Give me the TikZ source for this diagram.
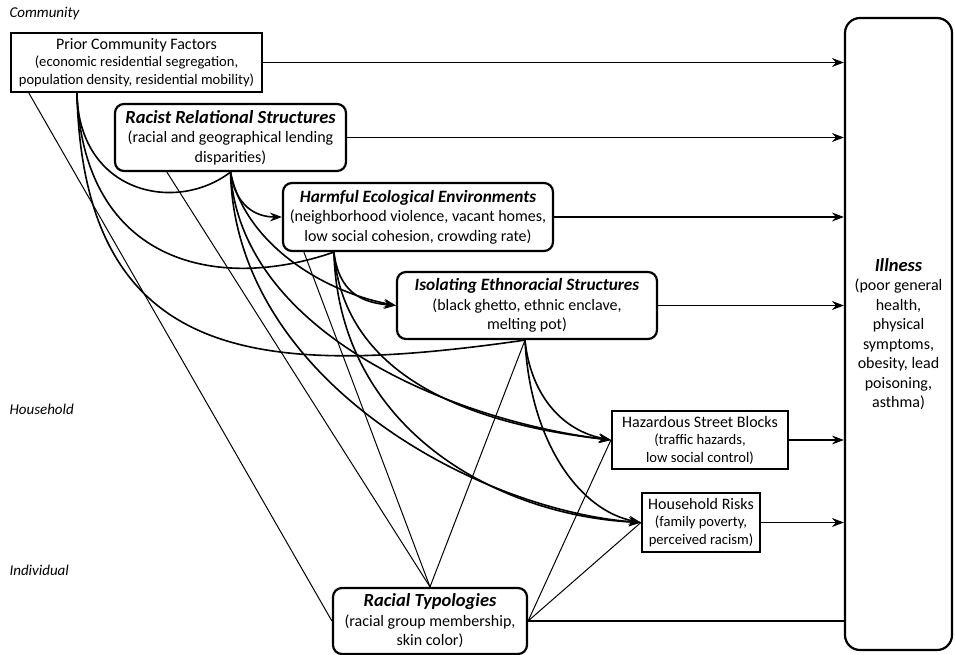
\documentclass[tikz,border=0pt]{standalone}
\usepackage{fontspec}
\setmainfont{Carlito}
\usetikzlibrary{arrows.meta}
\begin{document}
\begin{tikzpicture}[yscale=-1, x=1pt, y=1pt,
    plainbox/.style={draw, line width=2.2pt, inner sep=0pt, align=center, font=\fontsize{14.6}{17.5}\selectfont},
    roundbox/.style={draw, line width=2.2pt, rounded corners=9pt, inner sep=0pt, align=center, font=\fontsize{16}{19.5}\selectfont},
    levellabel/.style={anchor=west, font=\fontsize{15}{18}\selectfont\itshape},
    toill/.style={line width=1.4pt, -{Stealth[length=12pt, width=9pt, inset=4pt]}},
    route/.style={line width=1.6pt, -{Stealth[length=12pt, width=9pt, inset=4pt]}},
    hubroute/.style={line width=1.6pt},
    rtlink/.style={line width=1pt}]
    \useasboundingbox (0,0) rectangle (955,655);

    \node [levellabel] (lcom) at (6,14) {Community};
    \node [levellabel] (lhou) at (6,409) {Household};
    \node [levellabel] (lind) at (6,570) {Individual};

    \node [plainbox, minimum width=251pt, minimum height=59pt] (pcf) at (136.5,62.5) {{\fontsize{16}{17.5}\selectfont Prior Community Factors}\\(economic residential segregation,\\population density, residential mobility)};
    \node [roundbox, minimum width=231pt, minimum height=67pt] (rrs) at (230.5,137.5) {{\fontsize{18.5}{19.5}\selectfont\bfseries\itshape Racist Relational Structures}\\(racial and geographical lending\\disparities)};
    \node [roundbox, minimum width=270pt, minimum height=68pt] (hee) at (418,217) {{\fontsize{17.3}{19.5}\selectfont\bfseries\itshape Harmful Ecological Environments}\\(neighborhood violence, vacant homes,\\low social cohesion, crowding rate)};
    \node [roundbox, minimum width=260pt, minimum height=67pt] (ies) at (527,305.5) {{\fontsize{17.3}{19.5}\selectfont\bfseries\itshape Isolating Ethnoracial Structures}\\(black ghetto, ethnic enclave,\\melting pot)};
    \node [plainbox, minimum width=176pt, minimum height=58pt] (hsb) at (700,440) {{\fontsize{16}{17.5}\selectfont Hazardous Street Blocks}\\(traffic hazards,\\low social control)};
    \node [plainbox, minimum width=118pt, minimum height=59pt] (hr) at (701,522.5) {{\fontsize{16}{17.5}\selectfont Household Risks}\\(family poverty,\\perceived racism)};
    \node [roundbox, minimum width=194pt, minimum height=66pt] (rt) at (430,621) {{\fontsize{18.5}{19.5}\selectfont\bfseries\itshape Racial Typologies}\\(racial group membership,\\skin color)};
    \node [roundbox, rounded corners=15pt, minimum width=107pt, minimum height=632pt] (ill) at (898.5,334) {{\fontsize{18.5}{19.5}\selectfont\bfseries\itshape Illness}\\(poor general\\health,\\physical\\symptoms,\\obesity, lead\\poisoning,\\asthma)};

    \coordinate (pcfhub) at ([xshift=67pt]pcf.south west);
    \coordinate (pcfleft) at ([xshift=19pt]pcf.south west);
    \coordinate (rrshub) at (rrs.south);
    \coordinate (rrsleft) at ([xshift=53pt]rrs.south west);
    \coordinate (heehub) at ([xshift=52pt]hee.south west);
    \coordinate (heeleft) at ([xshift=22pt]hee.south west);
    \coordinate (ieshub) at ([xshift=-2pt]ies.south);

    \draw [toill] (pcf.east) -- (pcf.east -| ill.west);
    \draw [toill] (rrs.east) -- (rrs.east -| ill.west);
    \draw [toill] (hee.east) -- (hee.east -| ill.west);
    \draw [toill] (ies.east) -- (ies.east -| ill.west);
    \draw [toill] (hsb.east) -- (hsb.east -| ill.west);
    \draw [toill] (hr.east) -- (hr.east -| ill.west);
    \draw [line width=1.4pt] (rt.east) -- (rt.east -| ill.west);

    \draw [hubroute] (pcfhub) .. controls +(2,100) and +(-55,42) .. (rrshub);
    \draw [hubroute] (pcfhub) .. controls +(7,172) and +(-115,40) .. (heehub);
    \draw [hubroute] (pcfhub) .. controls +(7,272) and +(-265,38) .. (ieshub);

    \draw [route] (rrshub) .. controls +(5,35) and +(-25,0) .. (hee.west);
    \draw [route] (rrshub) .. controls +(14,69) and +(-77,-15) .. (ies.west);
    \draw [route] (rrshub) .. controls +(10,159) and +(-162,-20) .. (hsb.west);
    \draw [route] (rrshub) .. controls +(5,209) and +(-162,-12) .. (hr.west);
    \draw [route] (heehub) .. controls +(5,40) and +(-35,-3) .. (ies.west);
    \draw [route] (heehub) .. controls +(10,129) and +(-132,-15) .. (hsb.west);
    \draw [route] (heehub) .. controls +(5,179) and +(-142,-7) .. (hr.west);
    \draw [route] (ieshub) .. controls +(5,51) and +(-52,-10) .. (hsb.west);
    \draw [route] (ieshub) .. controls +(5,101) and +(-62,-12) .. (hr.west);

    \draw [rtlink] (pcfleft) -- (rt.west);
    \draw [rtlink] (rrsleft) -- (rt.north);
    \draw [rtlink] (heeleft) -- (rt.north);
    \draw [rtlink] (ieshub) -- (rt.north);
    \draw [rtlink] (rt.east) -- (hsb.west);
    \draw [rtlink] (rt.east) -- (hr.west);
\end{tikzpicture}
\end{document}
